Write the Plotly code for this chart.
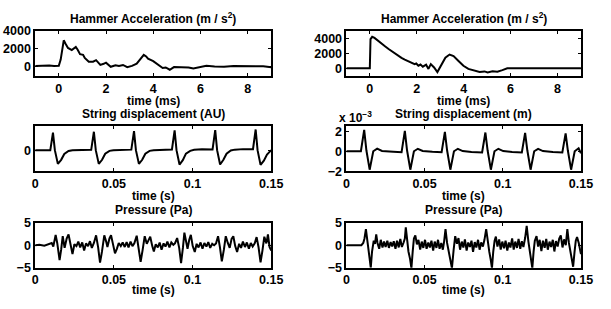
import plotly.graph_objects as go

# ---------------- data ----------------
# Hammer acceleration, measured (left) : time in ms, acceleration in m/s^2
t_ham_meas = [-1.0, -0.8, -0.6, -0.4, -0.2, 0.0, 0.08, 0.15, 0.21, 0.28, 0.39, 0.55, 0.65, 0.72,
              0.8, 0.9, 1.03, 1.1, 1.27, 1.45, 1.58, 1.76, 1.9, 2.0, 2.2, 2.4, 2.55, 2.72, 2.9,
              3.1, 3.3, 3.44, 3.6, 3.7, 3.78, 4.0, 4.2, 4.4, 4.53, 4.7, 4.88, 5.15, 5.5, 5.7,
              5.9, 6.25, 6.6, 7.0, 7.4, 7.83, 8.2, 8.66, 9.0]
a_ham_meas = [80, 120, 100, 140, 90, 100, 800, 2300, 2950, 2600, 2100, 1850, 2050, 2200,
              1900, 1400, 1330, 980, 560, 560, 740, 210, 330, 460, 0, 175, 80, 200, -50,
              100, 350, 800, 1330, 1150, 900, 630, 200, -140, -80, -330, -30, -30, -80, -200,
              -80, 100, 20, 10, 90, 70, 10, 50, -60]

# Hammer acceleration, model (right)
t_ham_model = [-1.0, 0.0, 0.03, 0.1, 0.2, 0.39, 0.52, 0.66, 0.8, 0.94, 1.08, 1.22, 1.35, 1.49,
               1.63, 1.77, 1.91, 1.98, 2.07, 2.16, 2.26, 2.4, 2.5, 2.6, 2.74, 2.88, 3.02, 3.12,
               3.22, 3.4, 3.57, 3.78, 3.99, 4.2, 4.47, 4.68, 4.89, 5.02, 5.23, 5.44, 5.65,
               5.86, 9.0]
a_ham_model = [0, 0, 3900, 4200, 4050, 3530, 3200, 2900, 2570, 2250, 1930, 1620, 1380, 1150,
               950, 770, 550, 640, 340, 500, 210, 470, -85, 550, 100, -510, 300, 900,
               1400, 1830, 1620, 980, 340, -85, -380, -510, -420, -550, -400, -450, -250,
               0, 0]

# String displacement, measured (left) : time in s, arbitrary units
t_str_meas = [0.0, 0.005, 0.0096, 0.0113, 0.0125, 0.0144, 0.0165, 0.0185, 0.0212, 0.0237, 0.030,
              0.0356, 0.0373, 0.0385, 0.0404, 0.0425, 0.0445, 0.0472, 0.0497, 0.055, 0.0611,
              0.0628, 0.0640, 0.0659, 0.0680, 0.0700, 0.0727, 0.0752, 0.080, 0.0869, 0.0886,
              0.0898, 0.0917, 0.0938, 0.0958, 0.0985, 0.1010, 0.106, 0.1127, 0.1144, 0.1156,
              0.1175, 0.1196, 0.1216, 0.1243, 0.1268, 0.132, 0.1384, 0.1401, 0.1413, 0.1432,
              0.1453, 0.1473, 0.1500]
d_str_meas = [0.0, 0.01, 0.0, 1.0, 0.0, -0.78, -0.55, -0.22, -0.05, 0.0, 0.02,
              0.02, 1.05, 0.0, -0.78, -0.55, -0.2, -0.04, 0.0, 0.02, 0.03,
              1.09, 0.0, -0.78, -0.55, -0.2, -0.04, 0.0, 0.03, 0.04, 1.13,
              0.0, -0.82, -0.57, -0.2, -0.04, 0.02, 0.05, 0.04, 1.15, 0.0,
              -0.82, -0.55, -0.2, -0.02, 0.03, 0.06, 0.06, 1.18, 0.0, -0.84,
              -0.6, -0.25, 0.0]

# String displacement, model (right) : time in s, displacement in m
t_str_model = [0.0, 0.0085, 0.0093, 0.0114, 0.0128, 0.0149, 0.0172, 0.0197, 0.0228, 0.030, 0.0345,
               0.0353, 0.0374, 0.0388, 0.0409, 0.0432, 0.0457, 0.0488, 0.055, 0.0601, 0.0609,
               0.0630, 0.0644, 0.0665, 0.0688, 0.0713, 0.0744, 0.080, 0.0860, 0.0868, 0.0889,
               0.0903, 0.0924, 0.0947, 0.0972, 0.1003, 0.106, 0.1114, 0.1122, 0.1143, 0.1157,
               0.1178, 0.1201, 0.1226, 0.1257, 0.132, 0.1373, 0.1381, 0.1402, 0.1416, 0.1437,
               0.1460, 0.1485, 0.1500]
d_str_model = [0.0, 0.0, 0.0, 2.15e-3, 0.1e-3, -1.85e-3, 0.0, 0.26e-3, 0.03e-3, -0.05e-3, -0.12e-3,
               -0.1e-3, 2.05e-3, 0.1e-3, -1.85e-3, 0.0, 0.25e-3, 0.03e-3, -0.06e-3, -0.14e-3, -0.1e-3,
               1.95e-3, 0.1e-3, -1.85e-3, 0.0, 0.25e-3, 0.02e-3, -0.08e-3, -0.16e-3, -0.12e-3, 1.88e-3,
               0.1e-3, -1.85e-3, 0.0, 0.25e-3, 0.02e-3, -0.08e-3, -0.16e-3, -0.12e-3, 1.85e-3, 0.1e-3,
               -1.85e-3, 0.0, 0.24e-3, 0.02e-3, -0.08e-3, -0.17e-3, -0.12e-3, 1.8e-3, 0.1e-3, -1.85e-3,
               0.0, 0.3e-3, -0.2e-3]

# Pressure, measured (left) : time in s, pressure in Pa
t_p_meas = [0.0, 0.0027, 0.0058, 0.0089, 0.0105, 0.0115, 0.0130, 0.0140, 0.0155, 0.0165, 0.0175,
            0.0187, 0.0200, 0.0212, 0.0225, 0.0237, 0.0249, 0.0262, 0.0274, 0.0286, 0.0299,
            0.0311, 0.0323, 0.0336, 0.0348, 0.0360, 0.0373, 0.0387, 0.0400, 0.0412, 0.0424,
            0.0439, 0.0451, 0.0459, 0.0472, 0.0482, 0.0494, 0.0507, 0.0519, 0.0531, 0.0544,
            0.0556, 0.0569, 0.0581, 0.0593, 0.0606, 0.0618, 0.0630, 0.0645, 0.0657, 0.0670,
            0.0682, 0.0696, 0.0709, 0.0721, 0.0731, 0.0744, 0.0754, 0.0766, 0.0779, 0.0791,
            0.0803, 0.0816, 0.0828, 0.0840, 0.0853, 0.0865, 0.0878, 0.0888, 0.0902, 0.0915,
            0.0927, 0.0939, 0.0948, 0.0958, 0.0968, 0.0979, 0.0989, 0.1001, 0.1014, 0.1026,
            0.1038, 0.1051, 0.1063, 0.1075, 0.1088, 0.1100, 0.1112, 0.1125, 0.1137, 0.1149,
            0.1162, 0.1174, 0.1186, 0.1199, 0.1211, 0.1224, 0.1236, 0.1248, 0.1259, 0.1271,
            0.1283, 0.1296, 0.1308, 0.1320, 0.1333, 0.1345, 0.1358, 0.1370, 0.1382, 0.1395,
            0.1407, 0.1419, 0.1432, 0.1444, 0.1456, 0.1469, 0.1479, 0.1489, 0.1500]
p_meas = [0.0, 0.1, -0.1, 0.2, 0.5, -0.3, 2.3, 0.5, -3.3, -1.0, 2.0,
          -0.6, 1.5, 2.4, -0.3, -2.0, 0.2, -0.2, 0.8, -0.5, 0.6,
          -1.2, 0.4, -0.2, 0.9, -0.6, 0.5, 2.2, -0.5, -3.9, -1.5,
          2.2, 0.8, -0.4, 1.5, 2.2, 0.3, -1.8, -0.8, 0.5, -0.2,
          0.6, -0.4, 0.7, -0.5, 0.8, -0.2, 0.4, 2.1, -0.4, -3.7,
          -1.2, 2.0, 0.3, 1.4, 1.9, -0.2, -1.4, 0.2, -0.5, 0.6,
          -1.0, 0.4, -0.3, 0.8, -0.5, 0.6, 0.1, 0.4, 1.6, -0.6,
          -4.0, -0.5, 2.8, 1.0, -0.8, 1.2, 2.3, -0.2, -1.5, 0.3,
          -0.5, 0.6, -0.8, 0.5, -0.3, 0.7, -0.6, 0.3, 0.0, 0.4,
          2.0, -0.5, -3.6, -1.0, 2.0, 0.5, -0.6, 1.4, 2.0, -0.2,
          -1.5, 0.3, -0.6, 0.8, -0.4, 0.6, -0.8, 0.5, -0.3, 0.4,
          1.8, -0.4, -3.8, -1.2, 1.9, 0.4, 2.4, -0.4, -1.2]

# Pressure, model (right)
t_p_model = [0.0, 0.0042, 0.0083, 0.0096, 0.0108, 0.0116, 0.0125, 0.0133, 0.0141, 0.0150, 0.0156,
             0.0164, 0.0175, 0.0183, 0.0191, 0.0199, 0.0210, 0.0220, 0.0231, 0.0241, 0.0251,
             0.0262, 0.0272, 0.0283, 0.0293, 0.0303, 0.0314, 0.0324, 0.0335, 0.0345, 0.0355,
             0.0366, 0.0374, 0.0380, 0.0389, 0.0397, 0.0407, 0.0416, 0.0424, 0.0432, 0.0441,
             0.0451, 0.0461, 0.0472, 0.0482, 0.0492, 0.0503, 0.0513, 0.0524, 0.0534, 0.0544,
             0.0555, 0.0565, 0.0576, 0.0586, 0.0596, 0.0607, 0.0617, 0.0625, 0.0634, 0.0644,
             0.0655, 0.0665, 0.0675, 0.0686, 0.0696, 0.0707, 0.0717, 0.0727, 0.0738, 0.0748,
             0.0758, 0.0769, 0.0779, 0.0790, 0.0800, 0.0810, 0.0821, 0.0831, 0.0842, 0.0852,
             0.0862, 0.0873, 0.0883, 0.0894, 0.0904, 0.0914, 0.0923, 0.0931, 0.0939, 0.0948,
             0.0956, 0.0966, 0.0977, 0.0987, 0.0997, 0.1008, 0.1018, 0.1029, 0.1039, 0.1049,
             0.1060, 0.1070, 0.1080, 0.1091, 0.1101, 0.1112, 0.1122, 0.1132, 0.1143, 0.1153,
             0.1164, 0.1172, 0.1180, 0.1189, 0.1197, 0.1205, 0.1216, 0.1226, 0.1236, 0.1247,
             0.1257, 0.1268, 0.1278, 0.1288, 0.1299, 0.1309, 0.1320, 0.1330, 0.1340, 0.1351,
             0.1361, 0.1371, 0.1382, 0.1392, 0.1403, 0.1413, 0.1423, 0.1434, 0.1442, 0.1450,
             0.1459, 0.1467, 0.1475, 0.1486, 0.1500]
p_model = [0.0, 0.05, 0.1, 0.0, 0.5, 1.5, 3.6, 1.0, -1.0, -3.0, -5.0,
           -1.5, 1.0, 0.3, 2.4, 0.5, -0.8, 1.2, -0.5, 0.8, -0.4,
           1.0, -0.6, 0.7, -0.3, 0.9, -0.8, 1.0, -0.5, 1.4, -0.4,
           0.6, 1.5, 4.0, 0.5, -1.4, -3.0, -5.1, -1.5, 1.5, 2.2,
           0.2, 1.2, -1.0, 0.8, -0.6, 1.2, -0.8, 0.6, -0.5, 1.0,
           -1.2, 0.8, -0.6, 1.2, -0.8, 0.5, -1.0, 0.8, 3.6, 0.5,
           -1.5, -3.0, -5.1, -1.0, 2.0, 0.3, 1.6, -1.0, 0.8, -0.5,
           1.3, -1.2, 0.6, -0.4, 1.0, -1.5, 0.7, -0.5, 1.2, -1.0,
           0.6, -0.3, 1.2, 3.6, 0.3, -1.5, -3.2, -5.1, -1.5, 1.0,
           1.9, -0.3, 1.3, -1.0, 0.8, -0.7, 1.0, -1.2, 0.6, -0.5,
           1.5, -1.0, 0.8, -0.6, 1.4, -0.8, 0.9, -0.4, 1.6, 4.3,
           0.8, -1.5, -3.3, -5.1, -1.5, 1.0, 2.0, -0.3, 1.2, -1.3,
           1.0, -0.6, 1.4, -1.0, 0.8, -0.4, 1.2, -1.4, 0.9, -0.3,
           1.5, 2.2, -0.5, 1.3, 0.0, 3.6, 0.5, -1.5, -3.0, -4.8,
           -1.5, 1.0, 1.8, 0.5, -2.0]

# tick labels
ms_ticks = [0, 2, 4, 6, 8]
s_ticks = [0, 0.05, 0.1, 0.15]
s_ticktext = ["0", "0.05", "0.1", "0.15"]
ham_ticks = [0, 2000, 4000]
str_au_ticks = [0]
str_m_ticks = [-2e-3, 0, 2e-3]
str_m_ticktext = ["\u22122", "0", "2"]
p_ticks = [-5, 0, 5]
p_ticktext = ["\u22125", "0", "5"]

titles = ["Hammer Acceleration (m / s<sup>2</sup>)", "Hammer Acceleration (m / s<sup>2</sup>)",
          "String displacement (AU)", "String displacement (m)",
          "Pressure (Pa)", "Pressure (Pa)"]
xlabels = ["time (ms)", "time (ms)", "time (s)", "time (s)", "time (s)", "time (s)"]

# ---------------- figure ----------------
W, H = 611, 309
TICKFONT = dict(family="Liberation Sans", size=12.5, color="black", weight="bold")
TITLEFONT = dict(family="Liberation Sans", size=12, color="black", weight="bold")

xdom = [[33 / W, 275 / W], [352 / W, 592.5 / W]]
rows_px = [(25, 72), (125, 172), (226, 273)]
title_px = [12, 112.5, 212.5]
xlabel_px = [98, 198, 296.5]
ydom = [[1 - b / H, 1 - t / H] for (t, b) in rows_px]

series = [(t_ham_meas, a_ham_meas), (t_ham_model, a_ham_model),
          (t_str_meas, d_str_meas), (t_str_model, d_str_model),
          (t_p_meas, p_meas), (t_p_model, p_model)]
yranges = [[-1000, 4000], [-1000, 5000], [-1.2, 1.36], [-2e-3, 2.5e-3], [-5, 5], [-5, 5]]
ytickv = [ham_ticks, ham_ticks, str_au_ticks, str_m_ticks, p_ticks, p_ticks]
ytickt = [[str(v) for v in ham_ticks], [str(v) for v in ham_ticks], ["0"], str_m_ticktext,
          p_ticktext, p_ticktext]

fig = go.Figure()
layout = dict(width=W, height=H, margin=dict(l=0, r=0, t=0, b=0),
              paper_bgcolor="white", plot_bgcolor="white", showlegend=False,
              font=TITLEFONT, annotations=[])

axis_common = dict(showline=True, linecolor="black", linewidth=1.6, mirror="ticks",
                   ticks="inside", ticklen=3, tickwidth=1, tickcolor="black",
                   showgrid=False, zeroline=False, tickfont=TICKFONT, fixedrange=True)

for i, (xs, ys) in enumerate(series):
    r, c = divmod(i, 2)
    n = i + 1
    xa = "x" if n == 1 else f"x{n}"
    ya = "y" if n == 1 else f"y{n}"
    fig.add_trace(go.Scatter(x=xs, y=ys, mode="lines", xaxis=xa, yaxis=ya,
                             line=dict(color="black", width=2), hoverinfo="skip"))
    if r == 0:
        xr, xtv, xtt = [-1, 9], ms_ticks, [str(v) for v in ms_ticks]
    else:
        xr, xtv, xtt = [0, 0.15], s_ticks, s_ticktext
    layout[f"xaxis{'' if n == 1 else n}"] = dict(axis_common, domain=xdom[c], anchor=ya,
                                                   range=xr, tickvals=xtv, ticktext=xtt)
    layout[f"yaxis{'' if n == 1 else n}"] = dict(axis_common, domain=ydom[r], anchor=xa,
                                                   range=yranges[i], tickvals=ytickv[i],
                                                   ticktext=ytickt[i])
    xc = (xdom[c][0] + xdom[c][1]) / 2
    layout["annotations"].append(dict(text=titles[i], x=xc, y=1 - title_px[r] / H,
                                      xref="paper", yref="paper", showarrow=False,
                                      xanchor="center", yanchor="middle", font=TITLEFONT))
    layout["annotations"].append(dict(text=xlabels[i], x=xc, y=1 - xlabel_px[r] / H,
                                      xref="paper", yref="paper", showarrow=False,
                                      xanchor="center", yanchor="middle", font=TITLEFONT))

# exponent label for string displacement in metres
layout["annotations"].append(dict(text="x 10<sup>\u22123</sup>", x=342 / W, y=1 - 115 / H,
                                  xref="paper", yref="paper", showarrow=False,
                                  xanchor="left", yanchor="middle", font=TITLEFONT))

fig.update_layout(**layout)
fig.write_html("out.html")
